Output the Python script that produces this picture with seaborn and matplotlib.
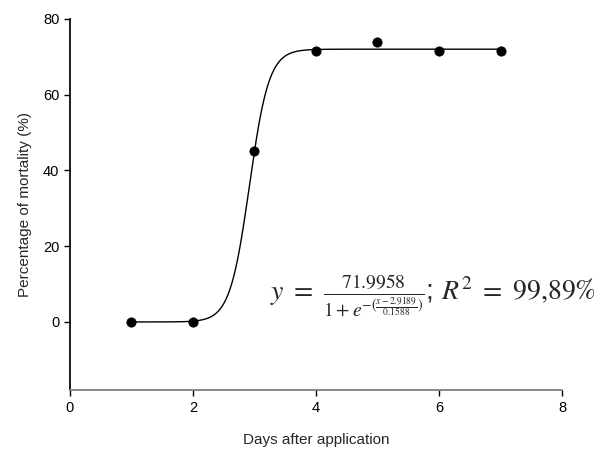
import numpy as np
import pandas as pd
import matplotlib
matplotlib.use('Agg')
import matplotlib.pyplot as plt
import seaborn as sns

# Observed mortality
days = [1, 2, 3, 4, 5, 6, 7]
mortality = [0.0, 0.0, 45.0, 71.4, 73.9, 71.4, 71.4]

# Fitted logistic parameters (as printed on the chart)
a_max = 71.9958
x0 = 2.9189
b = 0.1588

sns.set_theme(style='ticks')
plt.rcParams['font.family'] = ['Liberation Sans', 'DejaVu Sans']
plt.rcParams['mathtext.fontset'] = 'stix'

x_fit = np.linspace(min(days), max(days), 400)
fit_df = pd.DataFrame({'x': x_fit, 'y': a_max / (1 + np.exp(-(x_fit - x0) / b))})
obs_df = pd.DataFrame({'days': days, 'mortality': mortality})

fig = plt.figure(figsize=(6.07, 4.49), dpi=100)
ax = fig.add_axes([0.115, 0.131, 0.811, 0.827])

sns.lineplot(data=fit_df, x='x', y='y', ax=ax, color='black', linewidth=1.0)
sns.scatterplot(data=obs_df, x='days', y='mortality', ax=ax, color='black',
                s=45, edgecolor='black', zorder=3)

ax.set_xlim(0, 8)
ax.set_ylim(-18, 80)
ax.set_xticks([0, 2, 4, 6, 8])
ax.set_yticks([0, 20, 40, 60, 80])
ax.tick_params(labelsize=10.5, length=4, width=1, colors='black')
ax.set_xlabel('Days after application', fontsize=11, labelpad=13)
ax.set_ylabel('Percentage of mortality (%)', fontsize=11, labelpad=8)
sns.despine(ax=ax)
ax.spines['left'].set_color('black')
ax.spines['bottom'].set_color('#808080')
ax.spines['bottom'].set_linewidth(1.3)

ax.text(3.25, 1.0,
        r'$y\ =\ \frac{71.9958}{1 + e^{-(\frac{x-2.9189}{0.1588})}}$; $R^2\ =\ 99{,}89\%$',
        fontsize=20, ha='left', va='bottom')

fig.savefig('out.png', dpi=100)
